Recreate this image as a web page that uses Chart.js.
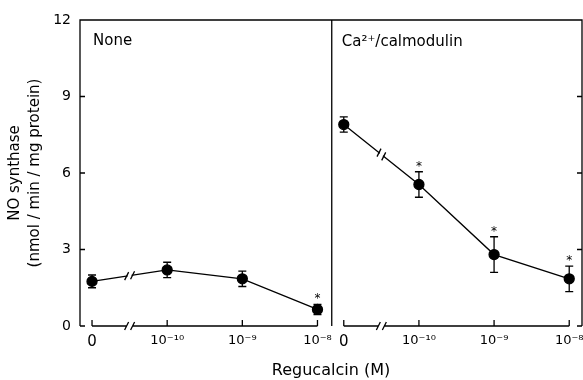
<!DOCTYPE html>
<html>
<head>
<meta charset="utf-8">
<script src="https://cdn.jsdelivr.net/npm/chart.js@4.4.0/dist/chart.umd.min.js"></script>
<style>
  html, body { margin: 0; padding: 0; background: #fff; }
</style>
</head>
<body>
<canvas id="nos" width="583" height="380"></canvas>
<script>
// regucalcin concentrations (categories)
const categories = ['0', '10⁻¹⁰', '10⁻⁹', '10⁻⁸'];
// NO synthase activity, no addition
const noneMean = [1.75, 2.2, 1.85, 0.65];
const noneErr = [0.25, 0.3, 0.3, 0.2];
const noneStar = [false, false, false, true];
// NO synthase activity, Ca2+/calmodulin added
const calMean = [7.9, 5.55, 2.8, 1.85];
const calErr = [0.3, 0.5, 0.7, 0.5];
const calStar = [false, true, true, true];
const yTicks = [0, 3, 6, 9, 12];
const panelTitles = ['None', 'Ca²⁺/calmodulin'];

// the two panels share one x scale, right panel is shifted
const rightShift = 3.35;
const divider = 3.19;
const FONT = 'DejaVu Sans';

const toPoints = (vals, shift) => vals.map((v, i) => ({ x: i + shift, y: v }));
const tickPos = categories.map((c, i) => i).concat(categories.map((c, i) => i + rightShift));

const panelPlugin = {
  id: 'panelPlugin',
  afterDatasetsDraw(chart) {
    const { ctx, chartArea: a, scales: { x, y } } = chart;
    ctx.save();
    ctx.strokeStyle = '#000';
    ctx.fillStyle = '#000';
    ctx.lineWidth = 1.3;

    // frame + divider
    const xd = x.getPixelForValue(divider);
    ctx.beginPath();
    ctx.moveTo(a.left, a.bottom);
    ctx.lineTo(a.left, a.top);
    ctx.lineTo(a.right, a.top);
    ctx.lineTo(a.right, a.bottom);
    ctx.moveTo(xd, a.top);
    ctx.lineTo(xd, a.bottom);
    // inward y ticks
    yTicks.forEach(v => {
      const py = y.getPixelForValue(v);
      ctx.moveTo(a.left, py); ctx.lineTo(a.left + 5, py);
      ctx.moveTo(a.right, py); ctx.lineTo(a.right - 5, py);
    });
    ctx.stroke();

    // broken x axis per panel
    const yb = y.getPixelForValue(0);
    [0, rightShift].forEach(s => {
      const x0 = x.getPixelForValue(s);
      const x1 = x.getPixelForValue(s + 1);
      const x3 = x.getPixelForValue(s + 3);
      const xb = (x0 + x1) / 2;
      ctx.beginPath();
      ctx.moveTo(x0, yb); ctx.lineTo(xb - 3, yb);
      ctx.moveTo(xb + 3, yb); ctx.lineTo(x3, yb);
      ctx.moveTo(xb - 5, yb + 4); ctx.lineTo(xb - 1, yb - 4);
      ctx.moveTo(xb + 1, yb + 4); ctx.lineTo(xb + 5, yb - 4);
      for (let i = 0; i < categories.length; i++) {
        const px = x.getPixelForValue(s + i);
        ctx.moveTo(px, yb); ctx.lineTo(px, yb - 6);
      }
      ctx.stroke();
    });

    // break marks on the data lines
    [[noneMean, 0], [calMean, rightShift]].forEach(([vals, s]) => {
      const ax = x.getPixelForValue(s), ay = y.getPixelForValue(vals[0]);
      const bx = x.getPixelForValue(s + 1), by = y.getPixelForValue(vals[1]);
      const mx = (ax + bx) / 2, my = (ay + by) / 2;
      const len = Math.hypot(bx - ax, by - ay);
      const ux = (bx - ax) / len, uy = (by - ay) / len;
      ctx.save();
      ctx.strokeStyle = '#fff';
      ctx.lineWidth = 3;
      ctx.beginPath();
      ctx.moveTo(mx - ux * 2, my - uy * 2);
      ctx.lineTo(mx + ux * 2, my + uy * 2);
      ctx.stroke();
      ctx.restore();
      ctx.beginPath();
      [-3, 3].forEach(d => {
        const cx = mx + ux * d, cy = my + uy * d;
        ctx.moveTo(cx - 2, cy + 4); ctx.lineTo(cx + 2, cy - 4);
      });
      ctx.stroke();
    });

    // error bars and significance marks
    ctx.font = '12px ' + FONT;
    ctx.textAlign = 'center';
    ctx.textBaseline = 'alphabetic';
    [[noneMean, noneErr, noneStar, 0], [calMean, calErr, calStar, rightShift]].forEach(([m, e, st, s]) => {
      m.forEach((v, i) => {
        const px = x.getPixelForValue(i + s);
        const top = y.getPixelForValue(v + e[i]);
        const bot = y.getPixelForValue(v - e[i]);
        ctx.beginPath();
        ctx.moveTo(px, top); ctx.lineTo(px, bot);
        ctx.moveTo(px - 4, top); ctx.lineTo(px + 4, top);
        ctx.moveTo(px - 4, bot); ctx.lineTo(px + 4, bot);
        ctx.stroke();
        if (st[i]) ctx.fillText('*', px, top - 2);
      });
    });

    // panel titles
    ctx.font = '15px ' + FONT;
    ctx.textAlign = 'left';
    ctx.textBaseline = 'middle';
    ctx.fillText(panelTitles[0], a.left + 13, 41);
    ctx.fillText(panelTitles[1], xd + 10, 42);
    ctx.restore();
  }
};

new Chart(document.getElementById('nos'), {
  type: 'line',
  data: {
    datasets: [
      {
        label: panelTitles[0],
        data: toPoints(noneMean, 0),
        borderColor: '#000',
        backgroundColor: '#000',
        borderWidth: 1.3,
        pointRadius: 5,
        pointHoverRadius: 5,
      },
      {
        label: panelTitles[1],
        data: toPoints(calMean, rightShift),
        borderColor: '#000',
        backgroundColor: '#000',
        borderWidth: 1.3,
        pointRadius: 5,
        pointHoverRadius: 5,
      },
    ],
  },
  options: {
    responsive: false,
    animation: false,
    devicePixelRatio: 1,
    layout: { autoPadding: false, padding: { top: 20, right: 1, bottom: 0, left: 0 } },
    plugins: { legend: { display: false }, tooltip: { enabled: false } },
    scales: {
      x: {
        type: 'linear',
        min: -0.16,
        max: 6.52,
        grid: { display: false, drawTicks: false },
        border: { display: false },
        afterBuildTicks: (scale) => { scale.ticks = tickPos.map(v => ({ value: v })); },
        afterFit: (scale) => {
          scale.height = 54;
          scale.paddingLeft = 0;
          scale.paddingRight = 0;
        },
        ticks: {
          autoSkip: false,
          maxRotation: 0,
          padding: 7,
          color: '#000',
          font: (c) => ({ family: FONT, size: c.index % categories.length === 0 ? 15 : 13 }),
          callback: (v, i) => categories[i % categories.length],
        },
        title: {
          display: true,
          text: 'Regucalcin (M)',
          color: '#000',
          font: { family: FONT, size: 16 },
          padding: { top: 0, bottom: 0 },
        },
      },
      y: {
        min: 0,
        max: 12,
        grid: { display: false, drawTicks: false },
        border: { display: false },
        afterFit: (scale) => { scale.width = 80; },
        ticks: {
          stepSize: 3,
          padding: 9,
          color: '#000',
          font: { family: FONT, size: 14 },
        },
        title: {
          display: true,
          text: ['NO synthase', '(nmol / min / mg protein)'],
          color: '#000',
          font: { family: FONT, size: 15, lineHeight: 1.35 },
          padding: { top: 5, bottom: 0 },
        },
      },
    },
  },
  plugins: [panelPlugin],
});
</script>
</body>
</html>
